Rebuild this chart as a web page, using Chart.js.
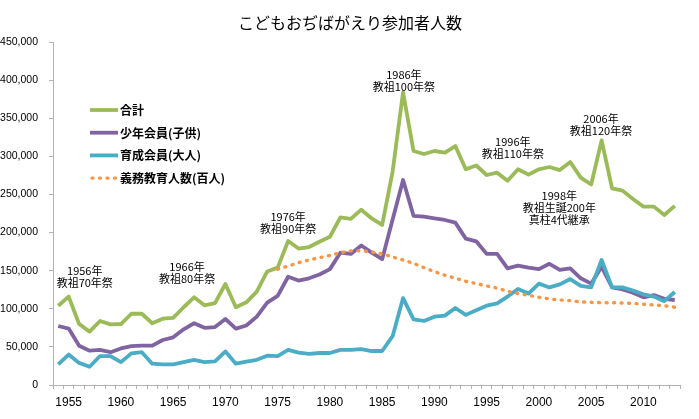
<!DOCTYPE html>
<html><head><meta charset="utf-8">
<script src="https://cdn.jsdelivr.net/npm/chart.js@4/dist/chart.umd.min.js"></script>
<style>html,body{margin:0;padding:0;background:#fff}#wrap{width:699px;height:419px;position:relative}</style>
</head><body><div id="wrap"><canvas id="c"></canvas></div>
<script>
const years = [1954,1955,1956,1957,1958,1959,1960,1961,1962,1963,1964,1965,1966,1967,1968,1969,1970,1971,1972,1973,1974,1975,1976,1977,1978,1979,1980,1981,1982,1983,1984,1985,1986,1987,1988,1989,1990,1991,1992,1993,1994,1995,1996,1997,1998,1999,2000,2001,2002,2003,2004,2005,2006,2007,2008,2009,2010,2011,2012,2013];
const labeledYears = [1955,1960,1965,1970,1975,1980,1985,1990,1995,2000,2005,2010];

const totalParticipants = [104000,116000,80000,70000,84000,79500,80000,93500,93500,81000,87000,88000,102000,115000,104500,107500,132500,102000,108500,122500,149000,154000,189000,179000,181000,188000,194500,220000,218000,230000,218500,210000,280000,384000,307000,303000,307000,305000,313500,283000,288000,275500,278500,268000,283000,276000,283000,286000,282000,292500,272000,263000,321000,258000,255000,244000,234000,234000,223000,235000];
const youthMembers = [77400,74000,51600,45000,46000,43000,48000,51000,51600,51600,59000,62500,73000,81000,75000,76000,86600,74000,78000,89700,108000,117000,142000,137000,140000,145000,152000,173600,172000,183000,173600,165000,217000,269000,222000,221000,218600,216500,213000,192000,188500,172000,172000,153000,156500,154000,152000,159000,151000,153000,140000,133000,155000,128000,125500,121000,115000,118000,113000,111500];
const adultMembers = [27000,40000,29000,24000,38000,38000,30000,41500,43000,28000,27000,27000,30000,33000,30000,31000,44000,28000,30600,33000,38500,38000,46000,42400,40700,42000,42000,46000,46000,47000,44600,44600,64000,114000,86000,84000,89600,91000,101000,92000,98000,104000,107000,116000,126000,120000,133000,128000,132000,139000,130000,128000,164000,128000,128000,124000,119000,116000,110000,122000];
const compulsoryStudents = [null,null,null,null,null,null,null,null,null,null,null,null,null,null,null,null,null,null,null,null,null,152000,156000,160500,164000,167000,170000,173600,176000,176000,174500,172000,168000,164000,159600,154000,148700,144000,140000,136000,133000,130000,127000,123000,120000,117600,115000,113000,111500,110600,109000,108500,108000,108000,107600,107000,106000,105000,104000,102000];

const seriesNames = ['合計','少年会員(子供)','育成会員(大人)','義務教育人数(百人)'];
const chartTitle = 'こどもおぢばがえり参加者人数';
const notes = [
  {year:1956.54, value:150000, lines:['1956年','教祖70年祭']},
  {year:1966.33, value:155000, lines:['1966年','教祖80年祭']},
  {year:1976.0,  value:221000, lines:['1976年','教祖90年祭']},
  {year:1987.08, value:406700, lines:['1986年','教祖100年祭']},
  {year:1997.5,  value:319000, lines:['1996年','教祖110年祭']},
  {year:2005.94, value:349000, lines:['2006年','教祖120年祭']},
  {year:2001.95, value:248000, lines:['1998年','教祖生誕200年','真柱4代継承']}
];

const COLORS = ['#9BBB59','#8064A2','#4BACC6','#F79646'];
const JP = "'Noto Sans CJK JP', 'Noto Sans', sans-serif";
const AXIS_GRAY = '#b3b3b3';

const overlay = {
  id: 'overlay',
  afterDatasetsDraw(chart) {
    const ctx = chart.ctx, xs = chart.scales.x, ys = chart.scales.y, ca = chart.chartArea;
    ctx.save();
    // annotations
    ctx.fillStyle = '#000';
    ctx.font = '11px ' + JP;
    ctx.textAlign = 'center';
    ctx.textBaseline = 'middle';
    const step = xs.getPixelForValue(1) - xs.getPixelForValue(0);
    notes.forEach(n => {
      const idx = n.year - years[0];
      const f = Math.floor(idx);
      const px = xs.getPixelForValue(f) + (idx - f) * step;
      const py = ys.getPixelForValue(n.value);
      n.lines.forEach((t, k) => ctx.fillText(t, px, py + k * 12));
    });
    // legend
    const lx = ca.left + 37, ly = ca.top + 68, gap = 22.7;
    chart.data.datasets.forEach((ds, k) => {
      const y = ly + k * gap;
      ctx.beginPath();
      ctx.strokeStyle = ds.borderColor;
      ctx.lineWidth = ds.borderWidth;
      ctx.lineCap = ds.borderDash ? 'round' : 'butt';
      ctx.setLineDash(ds.borderDash || []);
      ctx.moveTo(lx + (ds.borderDash ? 2 : 0), y);
      ctx.lineTo(lx + 28, y);
      ctx.stroke();
      ctx.setLineDash([]);
      ctx.fillStyle = '#000';
      ctx.font = 'bold 12px ' + JP;
      ctx.textAlign = 'left';
      ctx.fillText(ds.label, lx + 30, y + 0.5);
    });
    // title
    ctx.font = '16px ' + JP;
    ctx.textAlign = 'center';
    ctx.fillText(chartTitle, 350, 23);
    ctx.restore();
  }
};

new Chart(document.getElementById('c'), {
  type: 'line',
  data: {
    labels: years,
    datasets: [
      {label: seriesNames[0], data: totalParticipants, borderColor: COLORS[0], backgroundColor: COLORS[0], borderWidth: 3.8, order: 4},
      {label: seriesNames[1], data: youthMembers, borderColor: COLORS[1], backgroundColor: COLORS[1], borderWidth: 3.8, order: 3},
      {label: seriesNames[2], data: adultMembers, borderColor: COLORS[2], backgroundColor: COLORS[2], borderWidth: 3.8, order: 2},
      {label: seriesNames[3], data: compulsoryStudents, borderColor: COLORS[3], backgroundColor: COLORS[3], borderWidth: 3.4, borderDash: [1, 6.5], borderCapStyle: 'round', order: 1}
    ]
  },
  options: {
    responsive: true,
    maintainAspectRatio: false,
    animation: false,
    devicePixelRatio: 1,
    layout: {padding: {top: 42, right: 19, left: 0, bottom: 0}},
    elements: {
      point: {radius: 0, hoverRadius: 0},
      line: {tension: 0, borderJoinStyle: 'round', fill: false}
    },
    plugins: {legend: {display: false}, title: {display: false}, tooltip: {enabled: false}},
    scales: {
      x: {
        type: 'category',
        offset: true,
        grid: {display: true, drawOnChartArea: false, drawTicks: true, tickLength: 4, color: AXIS_GRAY, offset: true},
        border: {display: true, color: AXIS_GRAY, width: 1},
        ticks: {
          autoSkip: false, maxRotation: 0, minRotation: 0, padding: 6,
          color: '#000', font: {family: "'Liberation Sans', Arial, sans-serif", size: 12},
          callback: function(v, i) { return labeledYears.includes(years[i]) ? String(years[i]) : ''; }
        },
        afterFit: s => { s.height = 34; }
      },
      y: {
        min: 0, max: 450000,
        grid: {display: true, drawOnChartArea: false, drawTicks: true, tickLength: 4, color: AXIS_GRAY},
        border: {display: true, color: AXIS_GRAY, width: 1},
        ticks: {
          stepSize: 50000, padding: 11, color: '#000',
          font: {family: "'Liberation Sans Narrow', 'Liberation Sans', Arial, sans-serif", size: 10.5},
          callback: v => v.toLocaleString('en-US')
        },
        afterFit: s => { s.width = 53; }
      }
    }
  },
  plugins: [overlay]
});
</script>
</body></html>
